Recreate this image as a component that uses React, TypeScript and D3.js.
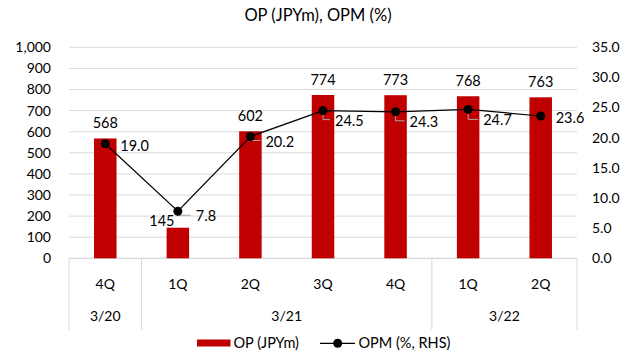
import React from "react";
import * as d3 from "d3";

const quarters = ["4Q", "1Q", "2Q", "3Q", "4Q", "1Q", "2Q"];
const years = ["3/20", "3/21", "3/21", "3/21", "3/21", "3/22", "3/22"];
const opValues = [568, 145, 602, 774, 773, 768, 763];
const opmValues = [19.0, 7.8, 20.2, 24.5, 24.3, 24.7, 23.6];
const leftTicks = [0, 100, 200, 300, 400, 500, 600, 700, 800, 900, 1000];
const rightTicks = [0, 5, 10, 15, 20, 25, 30, 35];
// label placement for OPM labels: [dx, dy, leader]
const opmLabelOffsets: [number, number, boolean][] = [
  [15, 2, false],
  [18, 5, true],
  [15, 5, true],
  [12, 10, true],
  [14, 10, true],
  [15, 11, true],
  [15, 2, false],
];
// label placement for OP labels: [dx, dy]
const opLabelOffsets: [number, number][] = [
  [0, 0],
  [-16, 8],
  [0, 0],
  [0, 0],
  [0, 0],
  [0, 0],
  [0, 0],
];

const W = 635;
const H = 356;
const FONT = "Lato, 'Open Sans', sans-serif";

export default function App() {
  const left = 69;
  const right = 577;
  const top = 47.3;
  const bottom = 258.3;
  const x = d3.scaleBand<number>().domain(d3.range(quarters.length)).range([left, right]).padding(0);
  const yL = d3.scaleLinear().domain([0, 1000]).range([bottom, top]);
  const yR = d3.scaleLinear().domain([0, 35]).range([bottom, top]);
  const bw = x.bandwidth() * 0.31;
  const cx = (i: number) => (x(i) as number) + x.bandwidth() / 2;

  const line = d3
    .line<number>()
    .x((_, i) => cx(i))
    .y((d) => yR(d));

  const groups: { label: string; start: number; end: number }[] = [];
  years.forEach((yv, i) => {
    const g = groups[groups.length - 1];
    if (g && g.label === yv) g.end = i;
    else groups.push({ label: yv, start: i, end: i });
  });
  const axisBottom = 330;
  const gridColor = "#d9d9d9";

  return (
    <svg width={W} height={H} style={{ position: "absolute", left: 0, top: 0, background: "#fff" }}>
      <rect width={W} height={H} fill="#fff" />
      <text x={318} y={21} textAnchor="middle" fontFamily={FONT} fontSize={16.5} fill="#000">
        OP (JPYm), OPM (%)
      </text>
      {leftTicks.map((t) => (
        <g key={"g" + t}>
          <line x1={left} x2={right} y1={yL(t)} y2={yL(t)} stroke={gridColor} strokeWidth={1} />
          <text x={51} y={yL(t)} dy="0.35em" textAnchor="end" fontFamily={FONT} fontSize={14} fill="#000">
            {d3.format(",")(t)}
          </text>
        </g>
      ))}
      {rightTicks.map((t) => (
        <text key={"r" + t} x={592} y={yR(t)} dy="0.35em" textAnchor="start" fontFamily={FONT} fontSize={14} fill="#000">
          {d3.format(".1f")(t)}
        </text>
      ))}
      <line x1={left} x2={right} y1={bottom} y2={bottom} stroke={gridColor} strokeWidth={1} />
      {[0, ...groups.map((g) => g.end + 1)].map((i) => {
        const xx = i >= quarters.length ? right : (x(i) as number);
        return <line key={"s" + i} x1={xx} x2={xx} y1={bottom} y2={axisBottom} stroke={gridColor} strokeWidth={1} />;
      })}
      {quarters.map((q, i) => (
        <text key={"q" + i} x={cx(i)} y={284} dy="0.35em" textAnchor="middle" fontFamily={FONT} fontSize={14} fill="#000">
          {q}
        </text>
      ))}
      {groups.map((g) => (
        <text
          key={"y" + g.label}
          x={((x(g.start) as number) + (x(g.end) as number) + x.bandwidth()) / 2}
          y={316}
          dy="0.35em"
          textAnchor="middle"
          fontFamily={FONT}
          fontSize={14}
          fill="#000"
        >
          {g.label}
        </text>
      ))}
      {opValues.map((v, i) => (
        <g key={"b" + i}>
          <rect x={cx(i) - bw / 2} y={yL(v)} width={bw} height={bottom - yL(v)} fill="#c00000" />
          <text
            x={cx(i) + opLabelOffsets[i][0]}
            y={yL(v) - 10 + opLabelOffsets[i][1]}
            textAnchor="middle"
            fontFamily={FONT}
            fontSize={14.5}
            fill="#000"
          >
            {v}
          </text>
        </g>
      ))}
      <path d={line(opmValues) || ""} fill="none" stroke="#000" strokeWidth={1.2} />
      {opmValues.map((v, i) => {
        const [dx, dy, leader] = opmLabelOffsets[i];
        const mx = cx(i);
        const my = yR(v);
        return (
          <g key={"m" + i}>
            {leader && (
              <polyline
                points={`${mx},${my} ${mx},${my + dy - 1} ${mx + dx - 5},${my + dy - 1}`}
                fill="none"
                stroke="#a6a6a6"
                strokeWidth={1}
              />
            )}
            <circle cx={mx} cy={my} r={4.5} fill="#000" />
            <text x={mx + dx} y={my + dy} dy="0.35em" textAnchor="start" fontFamily={FONT} fontSize={14.5} fill="#000">
              {d3.format(".1f")(v)}
            </text>
          </g>
        );
      })}
      <rect x={197} y={339.5} width={33.5} height={7} fill="#c00000" />
      <text x={233.5} y={343} dy="0.35em" fontFamily={FONT} fontSize={14.5} fill="#000">
        OP (JPYm)
      </text>
      <line x1={320} x2={355} y1={343.3} y2={343.3} stroke="#000" strokeWidth={1.2} />
      <circle cx={337.7} cy={343.3} r={4.5} fill="#000" />
      <text x={358.5} y={343} dy="0.35em" fontFamily={FONT} fontSize={14.5} fill="#000">
        OPM (%, RHS)
      </text>
    </svg>
  );
}
